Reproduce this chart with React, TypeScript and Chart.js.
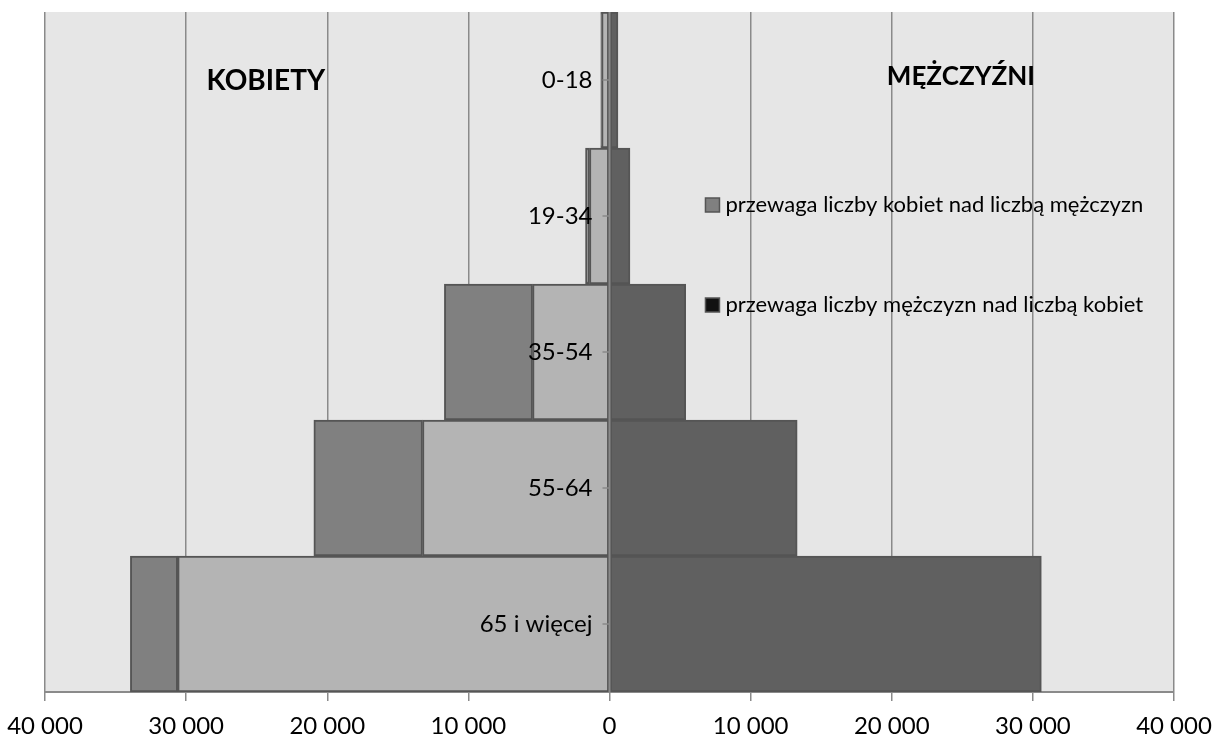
import React, { useEffect, useRef } from "react";
import { Chart, registerables } from "chart.js";

Chart.register(...registerables);

const categories = ["0-18", "19-34", "35-54", "55-64", "65 i więcej"];
// women: part equal to men count (drawn on the left, negative)
const womenBase = [-560, -1420, -5450, -13250, -30600];
// women excess over men (left, negative)
const womenExcess = [-60, -280, -6250, -7700, -3350];
// men (right)
const menValues = [600, 1450, 5400, 13300, 30600];
// men excess over women
const menExcess = [0, 0, 0, 0, 0];
const xTicks = [-40000, -30000, -20000, -10000, 0, 10000, 20000, 30000, 40000];

const FONT = "Lato, 'Open Sans', sans-serif";

const fmt = (v: number) =>
  String(Math.abs(v)).replace(/\B(?=(\d{3})+(?!\d))/g, " ");

const decor = {
  id: "decor",
  beforeDraw(chart: any) {
    const { ctx, chartArea } = chart;
    const { left, top, right, bottom } = chartArea;
    ctx.save();
    ctx.fillStyle = "#e6e6e6";
    ctx.fillRect(left, top, right - left, bottom - top);
    ctx.restore();
  },
  afterDatasetsDraw(chart: any) {
    const { ctx, chartArea } = chart;
    const { top, bottom } = chartArea;
    const xs = chart.scales.x;
    const ys = chart.scales.y;
    const x0 = xs.getPixelForValue(0);
    ctx.save();
    // category axis line
    ctx.strokeStyle = "#8a8a8a";
    ctx.lineWidth = 2;
    ctx.beginPath();
    ctx.moveTo(x0, top);
    ctx.lineTo(x0, bottom);
    ctx.stroke();
    // category ticks + labels
    ctx.font = `24px ${FONT}`;
    ctx.fillStyle = "#000";
    ctx.textAlign = "right";
    ctx.textBaseline = "middle";
    categories.forEach((c, i) => {
      const py = ys.getPixelForValue(i);
      ctx.strokeStyle = "#8a8a8a";
      ctx.lineWidth = 1.5;
      ctx.beginPath();
      ctx.moveTo(x0 - 7, py);
      ctx.lineTo(x0, py);
      ctx.stroke();
      ctx.fillText(c, x0 - 17, py);
    });
    // titles
    ctx.textAlign = "center";
    ctx.font = `bold 28px ${FONT}`;
    ctx.fillText("KOBIETY", xs.getPixelForValue(-24350), top + 69);
    ctx.font = `bold 26px ${FONT}`;
    ctx.fillText("MĘŻCZYŹNI", xs.getPixelForValue(24900), top + 65);
    // legend
    const ds = chart.data.datasets;
    const entries = [ds[1], ds[3]];
    const lx = xs.getPixelForValue(6800);
    ctx.font = `22px ${FONT}`;
    ctx.textAlign = "left";
    entries.forEach((d: any, i: number) => {
      const cy = top + 193 + i * 100;
      ctx.fillStyle = d.backgroundColor;
      ctx.fillRect(lx, cy - 7, 14, 14);
      ctx.strokeStyle = "#555";
      ctx.lineWidth = 1.5;
      ctx.strokeRect(lx, cy - 7, 14, 14);
      ctx.fillStyle = "#000";
      ctx.fillText(d.label, lx + 20, cy);
    });
    ctx.restore();
  },
};

export default function App() {
  const ref = useRef<HTMLCanvasElement | null>(null);
  useEffect(() => {
    if (!ref.current) return;
    const common = {
      borderColor: "#555555",
      borderWidth: 2,
      borderSkipped: false,
      barPercentage: 1,
      categoryPercentage: 1,
    };
    const chart = new Chart(ref.current, {
      type: "bar",
      data: {
        labels: categories,
        datasets: [
          { label: "kobiety", data: womenBase, backgroundColor: "#b4b4b4", ...common },
          {
            label: "przewaga liczby kobiet nad liczbą mężczyzn",
            data: womenExcess,
            backgroundColor: "#808080",
            ...common,
          },
          { label: "mężczyźni", data: menValues, backgroundColor: "#606060", ...common },
          {
            label: "przewaga liczby mężczyzn nad liczbą kobiet",
            data: menExcess,
            backgroundColor: "#111111",
            ...common,
          },
        ],
      } as any,
      options: {
        indexAxis: "y",
        responsive: false,
        devicePixelRatio: 1,
        animation: false,
        layout: { padding: { left: 45, right: 38, top: 12, bottom: -16 } },
        plugins: { legend: { display: false }, tooltip: { enabled: false } },
        scales: {
          x: {
            stacked: true,
            min: -40000,
            max: 40000,
            afterBuildTicks: (axis: any) => {
              axis.ticks = xTicks.map((v) => ({ value: v }));
            },
            ticks: {
              callback: (v: any) => fmt(Number(v)),
              font: { family: FONT, size: 24, lineHeight: 50 / 24 },
              color: "#000",
              maxRotation: 0,
              autoSkip: false,
              padding: 0,
            },
            grid: { color: "#8a8a8a", lineWidth: 1.5, tickLength: 9 },
            border: { color: "#8a8a8a", width: 2 },
          },
          y: { stacked: true, display: false },
        },
      } as any,
      plugins: [decor],
    });
    return () => chart.destroy();
  }, []);
  return (
    <div style={{ position: "fixed", left: 0, top: 0, width: 1212, height: 735, background: "#fff" }}>
      <canvas ref={ref} width={1212} height={735} />
    </div>
  );
}
